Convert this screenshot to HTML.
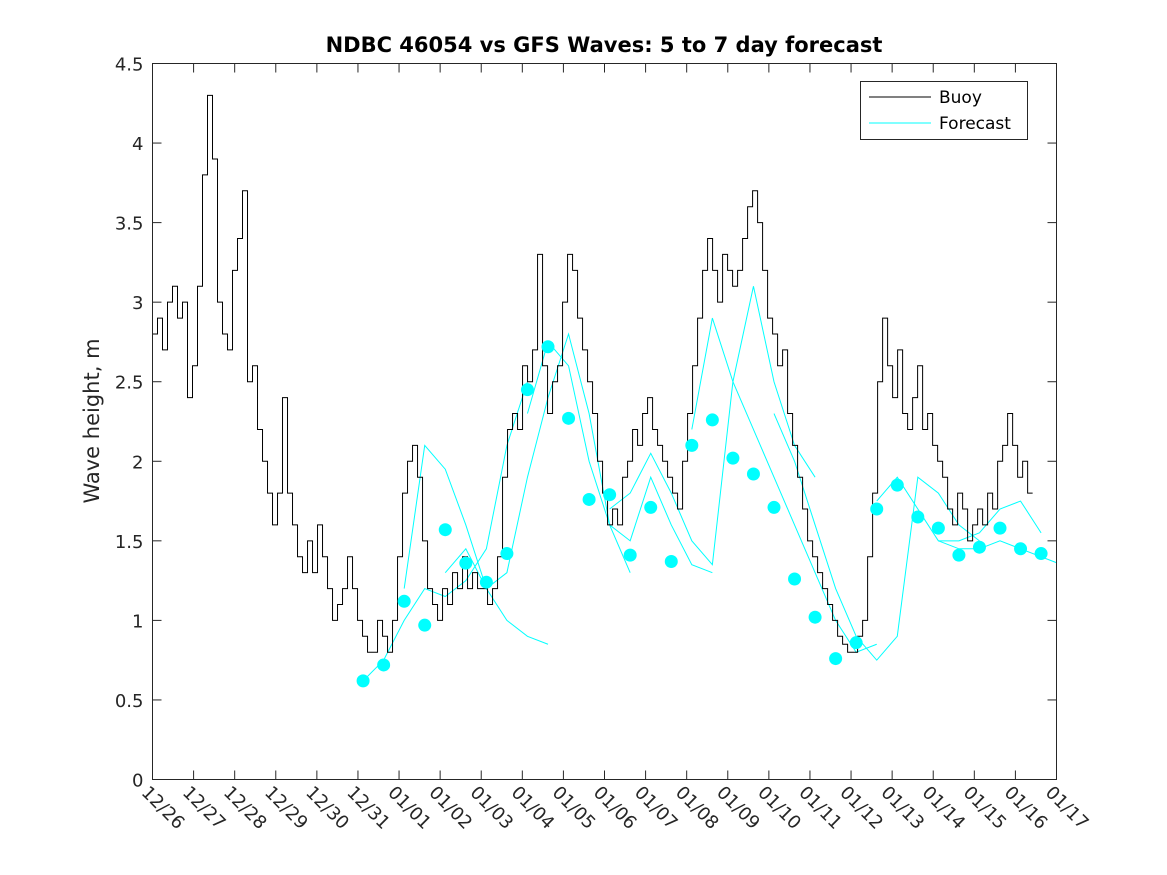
<!DOCTYPE html>
<html><head><meta charset="utf-8">
<style>
html,body{margin:0;padding:0;background:#fff;}
svg{display:block;font-family:"DejaVu Sans","Liberation Sans",sans-serif;}
</style></head>
<body>
<svg id="chart" width="1167" height="875" viewBox="0 0 1167 875" xmlns="http://www.w3.org/2000/svg">
<defs><clipPath id="plotclip"><rect x="152.5" y="63.5" width="904" height="716"/></clipPath></defs>
<rect width="1167" height="875" fill="#fff"/>
<text x="604" y="52" text-anchor="middle" font-size="21" font-weight="bold">NDBC 46054 vs GFS Waves: 5 to 7 day forecast</text>
<text transform="translate(99,421) rotate(-90)" text-anchor="middle" font-size="21" fill="#262626">Wave height, m</text>
<g id="axes"></g>
<g id="series" clip-path="url(#plotclip)"></g>
<rect x="152.5" y="63.5" width="904" height="716" fill="none" stroke="#262626" stroke-width="1"/>
<g>
<rect x="860.5" y="81.5" width="167" height="58" fill="#fff" stroke="#262626"/>
<line x1="869" y1="97" x2="931" y2="97" stroke="#000" stroke-width="1"/>
<text x="939" y="103" font-size="17">Buoy</text>
<line x1="869" y1="123" x2="931" y2="123" stroke="#00ffff" stroke-width="1"/>
<text x="939" y="129" font-size="17">Forecast</text>
</g>
</svg>
<script>
const xTickLabels=["12/26","12/27","12/28","12/29","12/30","12/31","01/01","01/02","01/03","01/04","01/05","01/06","01/07","01/08","01/09","01/10","01/11","01/12","01/13","01/14","01/15","01/16","01/17"];
const yTicks=[0,0.5,1,1.5,2,2.5,3,3.5,4,4.5];
const buoyStep=0.1217;
const buoyVals=[2.8,2.9,2.7,3.0,3.1,2.9,3.0,2.4,2.6,3.1,3.8,4.3,3.9,3.0,2.8,2.7,3.2,3.4,3.7,2.5,
2.6,2.2,2.0,1.8,1.6,1.8,2.4,1.8,1.6,1.4,1.3,1.5,1.3,1.6,1.4,1.2,1.0,1.1,1.2,1.4,1.2,1.0,0.9,0.8,0.8,1.0,0.9,0.8,1.0,1.4,
1.8,2.0,2.1,1.9,1.5,1.2,1.1,1.0,1.2,1.1,1.3,1.2,1.4,1.2,1.3,1.2,1.2,1.1,1.2,1.4,1.9,2.2,2.3,2.2,2.6,2.5,2.7,3.3,2.6,2.3,
2.5,2.6,3.0,3.3,3.2,2.9,2.7,2.5,2.3,2.0,1.8,1.6,1.7,1.6,1.9,2.0,2.2,2.1,2.3,2.4,2.2,2.1,2.0,1.9,1.8,1.7,2.0,2.3,2.6,2.9,
3.2,3.4,3.2,3.0,3.3,3.2,3.1,3.2,3.4,3.6,3.7,3.5,3.2,2.9,2.8,2.6,2.7,2.3,2.1,1.9,1.7,1.5,1.4,1.3,1.2,1.1,1.0,0.9,0.85,0.8,
0.8,0.9,1.0,1.4,1.8,2.5,2.9,2.6,2.4,2.7,2.3,2.2,2.4,2.6,2.2,2.3,2.1,2.0,1.9,1.7,1.6,1.8,1.7,1.5,1.6,1.7,1.6,1.8,1.7,2.0,
2.1,2.3,2.1,1.9,2.0,1.8];
const dotStart=5.125, dotStep=0.5;
const dotVals=[0.62,0.72,1.12,0.97,1.57,1.36,1.24,1.42,2.45,2.72,2.27,1.76,1.79,1.41,1.71,1.37,2.10,2.26,2.02,1.92,1.71,1.26,1.02,0.76,0.86,1.70,1.85,1.65,1.58,1.41,1.46,1.58,1.45,1.42];
const fcStarts=[0,2,4,8,12,16,20,25,28];
const fcVals=[
[0.62,0.75,1.0,1.2,1.15,1.25,1.45,2.1,2.5],
[1.2,2.1,1.95,1.6,1.2,1.0,0.9,0.85],
[1.3,1.45,1.2,1.3,1.9,2.4,2.8,2.3,1.6,1.3],
[2.3,2.75,2.6,2.0,1.6,1.5,1.9,1.6,1.35,1.3],
[1.7,1.8,2.05,1.8,1.5,1.35,2.5,3.1,2.5,2.1,1.9],
[2.2,2.9,2.5,2.2,1.9,1.6,1.3,1.0,0.8,0.85],
[2.3,2.0,1.6,1.2,0.9,0.75,0.9,1.9,1.8,1.6,1.5],
[1.75,1.9,1.7,1.5,1.5,1.55,1.7,1.75,1.55],
[1.5,1.45,1.45,1.5,1.45,1.4,1.35,1.3]];

const NS="http://www.w3.org/2000/svg";
const X0=152.5,X1=1056.5,Y0=779.5,Y1=63.5;
const xs=d=>X0+d*(X1-X0)/22;
const ys=v=>Y0-v*(Y0-Y1)/4.5;
const axes=document.getElementById('axes'), series=document.getElementById('series');
function mk(tag,attrs,parent){const e=document.createElementNS(NS,tag);for(const k in attrs)e.setAttribute(k,attrs[k]);parent.appendChild(e);return e;}

xTickLabels.forEach((lab,i)=>{
  const x=xs(i);
  const t1=mk('line',{x1:x,y1:Y0,x2:x,y2:Y0-9,stroke:'#262626'},axes);
  
  
  const t2=mk('line',{x1:x,y1:Y1,x2:x,y2:Y1+9,stroke:'#262626'},axes);
  
  
  const tx=mk('text',{transform:`translate(${x-12},${Y0+14}) rotate(45)`,'font-size':'18',fill:'#262626'},axes);
  
  
  tx.textContent=lab;
});
yTicks.forEach(v=>{
  const y=ys(v);
  const t1=mk('line',{x1:X0,y1:y,x2:X0+9,y2:y,stroke:'#262626'},axes);
  
  
  const t2=mk('line',{x1:X1,y1:y,x2:X1-9,y2:y,stroke:'#262626'},axes);
  
  
  const tx=mk('text',{x:X0-9,y:y+7,'text-anchor':'end','font-size':'18',fill:'#262626'},axes);
  
  
  tx.textContent=String(v);
});

fcVals.forEach((arr,j)=>{
  const pts=arr.map((v,k)=>xs(dotStart+(fcStarts[j]+k)*dotStep)+','+ys(v)).join(' ');
  const pl=mk('polyline',{points:pts,fill:'none',stroke:'#00ffff','stroke-width':'1'},series);
  
  
});

let d='';
buoyVals.forEach((v,i)=>{
  const x=xs(i*buoyStep), y=ys(v);
  if(i===0) d+=`M${x},${y}`; else d+=`V${y}`;
  d+=`H${xs((i+1)*buoyStep)}`;
});
const bp=mk('path',{d:d,fill:'none',stroke:'#000','stroke-width':'1'},series);



dotVals.forEach((v,i)=>{
  const c=mk('circle',{cx:xs(dotStart+i*dotStep),cy:ys(v),r:'6.5',fill:'#00ffff'},series);
  
  
});
</script>
</body></html>
